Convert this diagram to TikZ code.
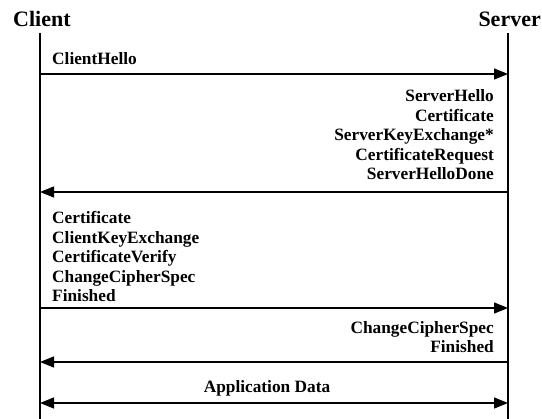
\documentclass[tikz,border=0pt]{standalone}
\usepackage{fontspec}
\setmainfont{Liberation Serif}
\usetikzlibrary{arrows.meta}
\begin{document}
\begin{tikzpicture}[x=1pt,y=-1pt,
  title/.style={font=\fontsize{22}{26}\selectfont\bfseries, inner sep=0pt},
  msg/.style={font=\fontsize{17.3}{19.5}\selectfont\bfseries, inner sep=0pt},
  life/.style={line width=1.3pt},
  arr/.style={line width=1.3pt, -{Triangle[length=14pt,width=11pt]}},
  darr/.style={line width=1.3pt, {Triangle[length=14pt,width=11pt]}-{Triangle[length=14pt,width=11pt]}}]
\useasboundingbox (0,0) rectangle (542,419);
% titles
\node[title, anchor=base west] (client) at (13,27) {Client};
\node[title, anchor=base east] (server) at (541,27) {Server};
% lifelines
\coordinate (c0) at (40,33); \coordinate (c1) at (40,419);
\coordinate (s0) at (508,33); \coordinate (s1) at (508,419);
\draw[life] (c0) -- (c1);
\draw[life] (s0) -- (s1);
% arrow 1
\coordinate (a1c) at (40,74); \coordinate (a1s) at (508,74);
\node[msg, anchor=base west] (m1) at (52,65) {ClientHello};
\draw[arr] (a1c) -- (a1s);
% arrow 2
\node[msg, anchor=south east, align=right] (m2) at (494,180) {ServerHello\\Certificate\\ServerKeyExchange*\\CertificateRequest\\ServerHelloDone};
\coordinate (a2c) at (40,192); \coordinate (a2s) at (508,192);
\draw[arr] (a2s) -- (a2c);
% arrow 3
\node[msg, anchor=south west, align=left] (m3) at (52,302) {Certificate\\ClientKeyExchange\\CertificateVerify\\ChangeCipherSpec\\Finished};
\coordinate (a3c) at (40,308); \coordinate (a3s) at (508,308);
\draw[arr] (a3c) -- (a3s);
% arrow 4
\node[msg, anchor=south east, align=right] (m4) at (494,353) {ChangeCipherSpec\\Finished};
\coordinate (a4c) at (40,362); \coordinate (a4s) at (508,362);
\draw[arr] (a4s) -- (a4c);
% arrow 5
\node[msg, anchor=base] (m5) at (267,393) {Application Data};
\coordinate (a5c) at (40,403); \coordinate (a5s) at (508,403);
\draw[darr] (a5c) -- (a5s);
\end{tikzpicture}
\end{document}
